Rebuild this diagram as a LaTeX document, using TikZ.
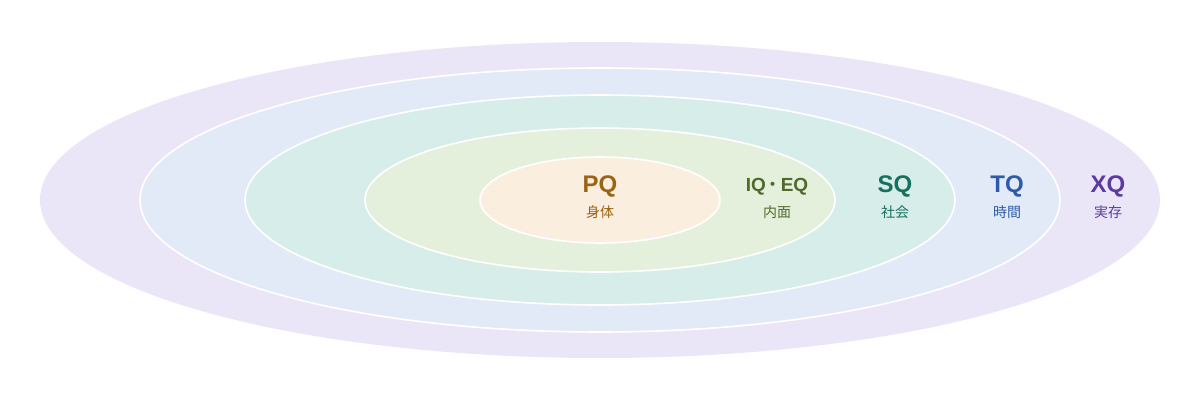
\documentclass[tikz,border=0pt]{standalone}
\usepackage{fontspec}
\setmainfont{Noto Sans CJK JP}
\newfontfamily\latb{Liberation Sans}
\begin{document}
\begin{tikzpicture}[x=1pt,y=-1pt,
  ring/.style={draw=white,line width=1.6pt},
  big/.style={font=\latb\fontsize{24}{26}\selectfont\bfseries},
  small/.style={font=\fontsize{14}{16}\selectfont}]
\useasboundingbox (0,0) rectangle (1200,400);
\definecolor{c1}{HTML}{EAE6F8}\definecolor{c2}{HTML}{E1EAF6}
\definecolor{c3}{HTML}{D6EDE9}\definecolor{c4}{HTML}{E5F0DC}
\definecolor{c5}{HTML}{FAEEDE}
\definecolor{t1}{HTML}{9A6414}\definecolor{t2}{HTML}{4E6B2A}
\definecolor{t3}{HTML}{157060}\definecolor{t4}{HTML}{2F5AA8}
\definecolor{t5}{HTML}{5B3BA0}
\fill[c1] (600,200) ellipse [x radius=560,y radius=158];
\filldraw[ring,fill=c2] (600,200) ellipse [x radius=460,y radius=132];
\filldraw[ring,fill=c3] (600,200) ellipse [x radius=355,y radius=105];
\filldraw[ring,fill=c4] (600,200) ellipse [x radius=235,y radius=72];
\filldraw[ring,fill=c5] (600,200) ellipse [x radius=120,y radius=43];
\node[big,text=t1] (pq) at (600,186) {PQ};
\node[small,text=t1] (pqs) at (600,212) {身体};
\node[text=t2,font=\latb\fontsize{19}{21}\selectfont\bfseries] (iq) at (777,187) {IQ\kern-2pt{\rmfamily\mdseries・}\kern-2pt EQ};
\node[small,text=t2] (iqs) at (777,212) {内面};
\node[big,text=t3] (sq) at (895,186) {SQ};
\node[small,text=t3] (sqs) at (895,212) {社会};
\node[big,text=t4] (tq) at (1007,186) {TQ};
\node[small,text=t4] (tqs) at (1007,212) {時間};
\node[big,text=t5] (xq) at (1108,186) {XQ};
\node[small,text=t5] (xqs) at (1108,212) {実存};
\end{tikzpicture}
\end{document}
